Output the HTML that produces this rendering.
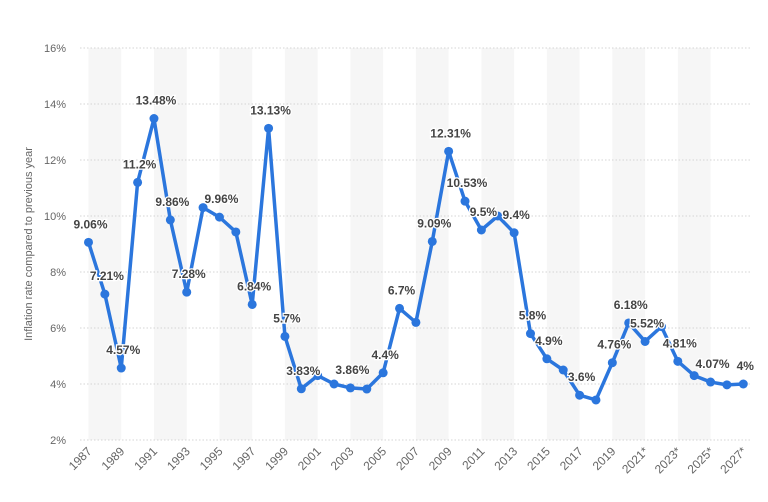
<!DOCTYPE html>
<html><head><meta charset="utf-8"><style>
body{margin:0;background:#fff;}
svg{display:block;font-family:"Liberation Sans",sans-serif;}
</style></head><body>
<svg id="chart" width="768" height="502"></svg>
<script>
const years=[1987,1988,1989,1990,1991,1992,1993,1994,1995,1996,1997,1998,1999,2000,2001,2002,2003,2004,2005,2006,2007,2008,2009,2010,2011,2012,2013,2014,2015,2016,2017,2018,2019,2020,2021,2022,2023,2024,2025,2026,2027];
const values=[9.06,7.21,4.57,11.2,13.48,9.86,7.28,10.3,9.96,9.43,6.84,13.13,5.7,3.83,4.3,4.0,3.86,3.82,4.4,6.7,6.2,9.09,12.31,10.53,9.5,10.0,9.4,5.8,4.9,4.5,3.6,3.43,4.76,6.18,5.52,6.05,4.81,4.3,4.07,3.97,4.0];
const pointLabels=["9.06%","7.21%","4.57%","11.2%","13.48%","9.86%","7.28%","","9.96%","","6.84%","13.13%","5.7%","3.83%","","","3.86%","","4.4%","6.7%","","9.09%","12.31%","10.53%","9.5%","","9.4%","5.8%","4.9%","","3.6%","","4.76%","6.18%","5.52%","","4.81%","","4.07%","","4%"];
const xTickLabels=["1987","1989","1991","1993","1995","1997","1999","2001","2003","2005","2007","2009","2011","2013","2015","2017","2019","2021*","2023*","2025*","2027*"];
const yTicks=[2,4,6,8,10,12,14,16];

const NS="http://www.w3.org/2000/svg";
const svg=document.getElementById('chart');
const x0=88.5, step=16.37;
const xs=i=>x0+i*step;
const ys=v=>440-(v-2)*28;
function el(t,a,p){const e=document.createElementNS(NS,t);for(const k in a)e.setAttribute(k,a[k]);(p||svg).appendChild(e);return e;}

for(let i=0;i<years.length-1;i+=4){
  const b=el('rect',{x:xs(i),y:ys(16),width:step*2,height:ys(2)-ys(16),fill:'#f6f6f6'});
  
  
}
yTicks.forEach(t=>{
  const g=el('line',{x1:80,x2:751,y1:ys(t),y2:ys(t),stroke:'#d4d4d4','stroke-dasharray':'1.5 2','stroke-width':1});
  
  
  const l=el('text',{x:66,y:ys(t)+4,'text-anchor':'end','font-size':11,fill:'#666'});
  l.textContent=t+'%';
  
  
});
xTickLabels.forEach((s,k)=>{
  const x=xs(k*2)+4,y=452;
  const l=el('text',{x:x,y:y,'text-anchor':'end','font-size':12,fill:'#666',transform:`rotate(-45 ${x} ${y})`});
  l.textContent=s;
  
  
});
const yt=el('text',{x:32,y:244,'text-anchor':'middle','font-size':11,fill:'#666',transform:'rotate(-90 32 244)'});
yt.textContent='Inflation rate compared to previous year';


const line=el('polyline',{points:values.map((v,i)=>xs(i)+','+ys(v)).join(' '),fill:'none',stroke:'#2b76dd','stroke-width':3.5,'stroke-linejoin':'round'});


values.forEach((v,i)=>{
  const c=el('circle',{cx:xs(i),cy:ys(v),r:4.5,fill:'#2b76dd'});
  
  
});
values.forEach((v,i)=>{
  if(!pointLabels[i])return;
  const t=el('text',{x:xs(i)+2,y:ys(v)-14,'text-anchor':'middle','font-size':12,'font-weight':'bold',fill:'#444',stroke:'#fff','stroke-width':2.5,'paint-order':'stroke'});
  t.textContent=pointLabels[i];
  
  
});
</script>
</body></html>
